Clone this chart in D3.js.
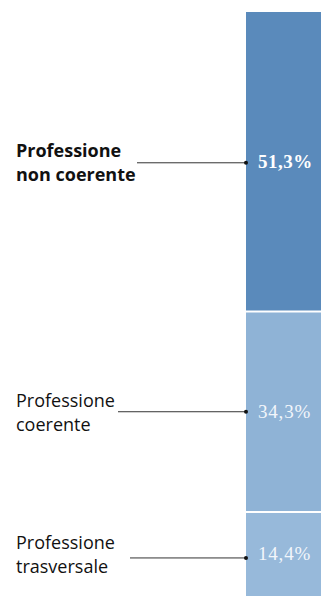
<!DOCTYPE html>
<html>
<head>
<meta charset="utf-8">
<script src="https://cdn.jsdelivr.net/npm/d3@7"></script>
<style>
  body { margin: 0; background: #fff; }
  svg { display: block; }
</style>
</head>
<body>
<div id="chart"></div>
<script>
// categories, top to bottom
var categories = ["Professione non coerente", "Professione coerente", "Professione trasversale"];
var labelLines = [["Professione", "non coerente"], ["Professione", "coerente"], ["Professione", "trasversale"]];
var values = [51.3, 34.3, 14.4];
var valueLabels = ["51,3%", "34,3%", "14,4%"];

var width = 321, height = 598;

var svg = d3.select("#chart").append("svg")
    .attr("width", width)
    .attr("height", height);

var barLeft = 246;

// stacked single column
var data = [];
var acc = 0;
values.forEach(function(v, i){
  data.push({ name: categories[i], lines: labelLines[i], value: v, label: valueLabels[i], y0: acc, y1: acc + v });
  acc += v;
});

var y = d3.scaleLinear()
    .domain([0, d3.sum(values)])
    .range([12, 596]);

var colorscale = d3.scaleOrdinal()
    .domain(categories)
    .range(["#5a8abb", "#8fb3d6", "#97b9da"]);

var seg = svg.append("g")
    .selectAll("g")
    .data(data)
    .enter().append("g");

seg.append("rect")
    .attr("x", barLeft)
    .attr("y", function(d){ return y(d.y0); })
    .attr("width", width - barLeft)
    .attr("height", function(d){ return y(d.y1) - y(d.y0); })
    .attr("fill", function(d){ return colorscale(d.name); });

// white dividers between segments
svg.selectAll(".divider")
    .data(data.slice(1))
    .enter().append("line")
    .attr("class", "divider")
    .attr("x1", barLeft).attr("x2", width)
    .attr("y1", function(d){ return y(d.y0); })
    .attr("y2", function(d){ return y(d.y0); })
    .attr("stroke", "#fff")
    .attr("stroke-width", 2);

function mid(d){ return (y(d.y0) + y(d.y1)) / 2; }

// percentage inside the bar
seg.append("text")
    .attr("x", 258)
    .attr("y", function(d){ return mid(d) + 6; })
    .attr("fill", function(d, i){ return i == 0 ? "#ffffff" : "#f2f6fb"; })
    .style("font-family", "'Liberation Serif', serif")
    .style("font-weight", function(d, i){ return i == 0 ? "bold" : "normal"; })
    .style("font-size", "19px")
    .style("letter-spacing", function(d, i){ return i == 0 ? "0.5px" : "0.8px"; })
    .text(function(d){ return d.label; });

// category labels
seg.append("text")
    .attr("x", 16)
    .attr("y", function(d){ return mid(d) - 5; })
    .attr("fill", "#111")
    .style("font-family", "'Open Sans', sans-serif")
    .style("font-weight", function(d, i){ return i == 0 ? "bold" : "normal"; })
    .style("font-size", "18px")
    .selectAll("tspan")
    .data(function(d){ return d.lines; })
    .enter().append("tspan")
    .attr("x", 16)
    .attr("dy", function(d, i){ return i == 0 ? 0 : 24; })
    .text(function(d){ return d; });

// leader lines
var lineStart = [137, 118, 130];
var lineOffset = [1, 0, 4];
seg.append("line")
    .attr("x1", function(d, i){ return lineStart[i]; })
    .attr("x2", barLeft)
    .attr("y1", function(d, i){ return mid(d) + lineOffset[i]; })
    .attr("y2", function(d, i){ return mid(d) + lineOffset[i]; })
    .attr("stroke", "#333")
    .attr("stroke-width", 1);

seg.append("circle")
    .attr("cx", barLeft)
    .attr("cy", function(d, i){ return mid(d) + lineOffset[i]; })
    .attr("r", 2)
    .attr("fill", "#111");
</script>
</body>
</html>
